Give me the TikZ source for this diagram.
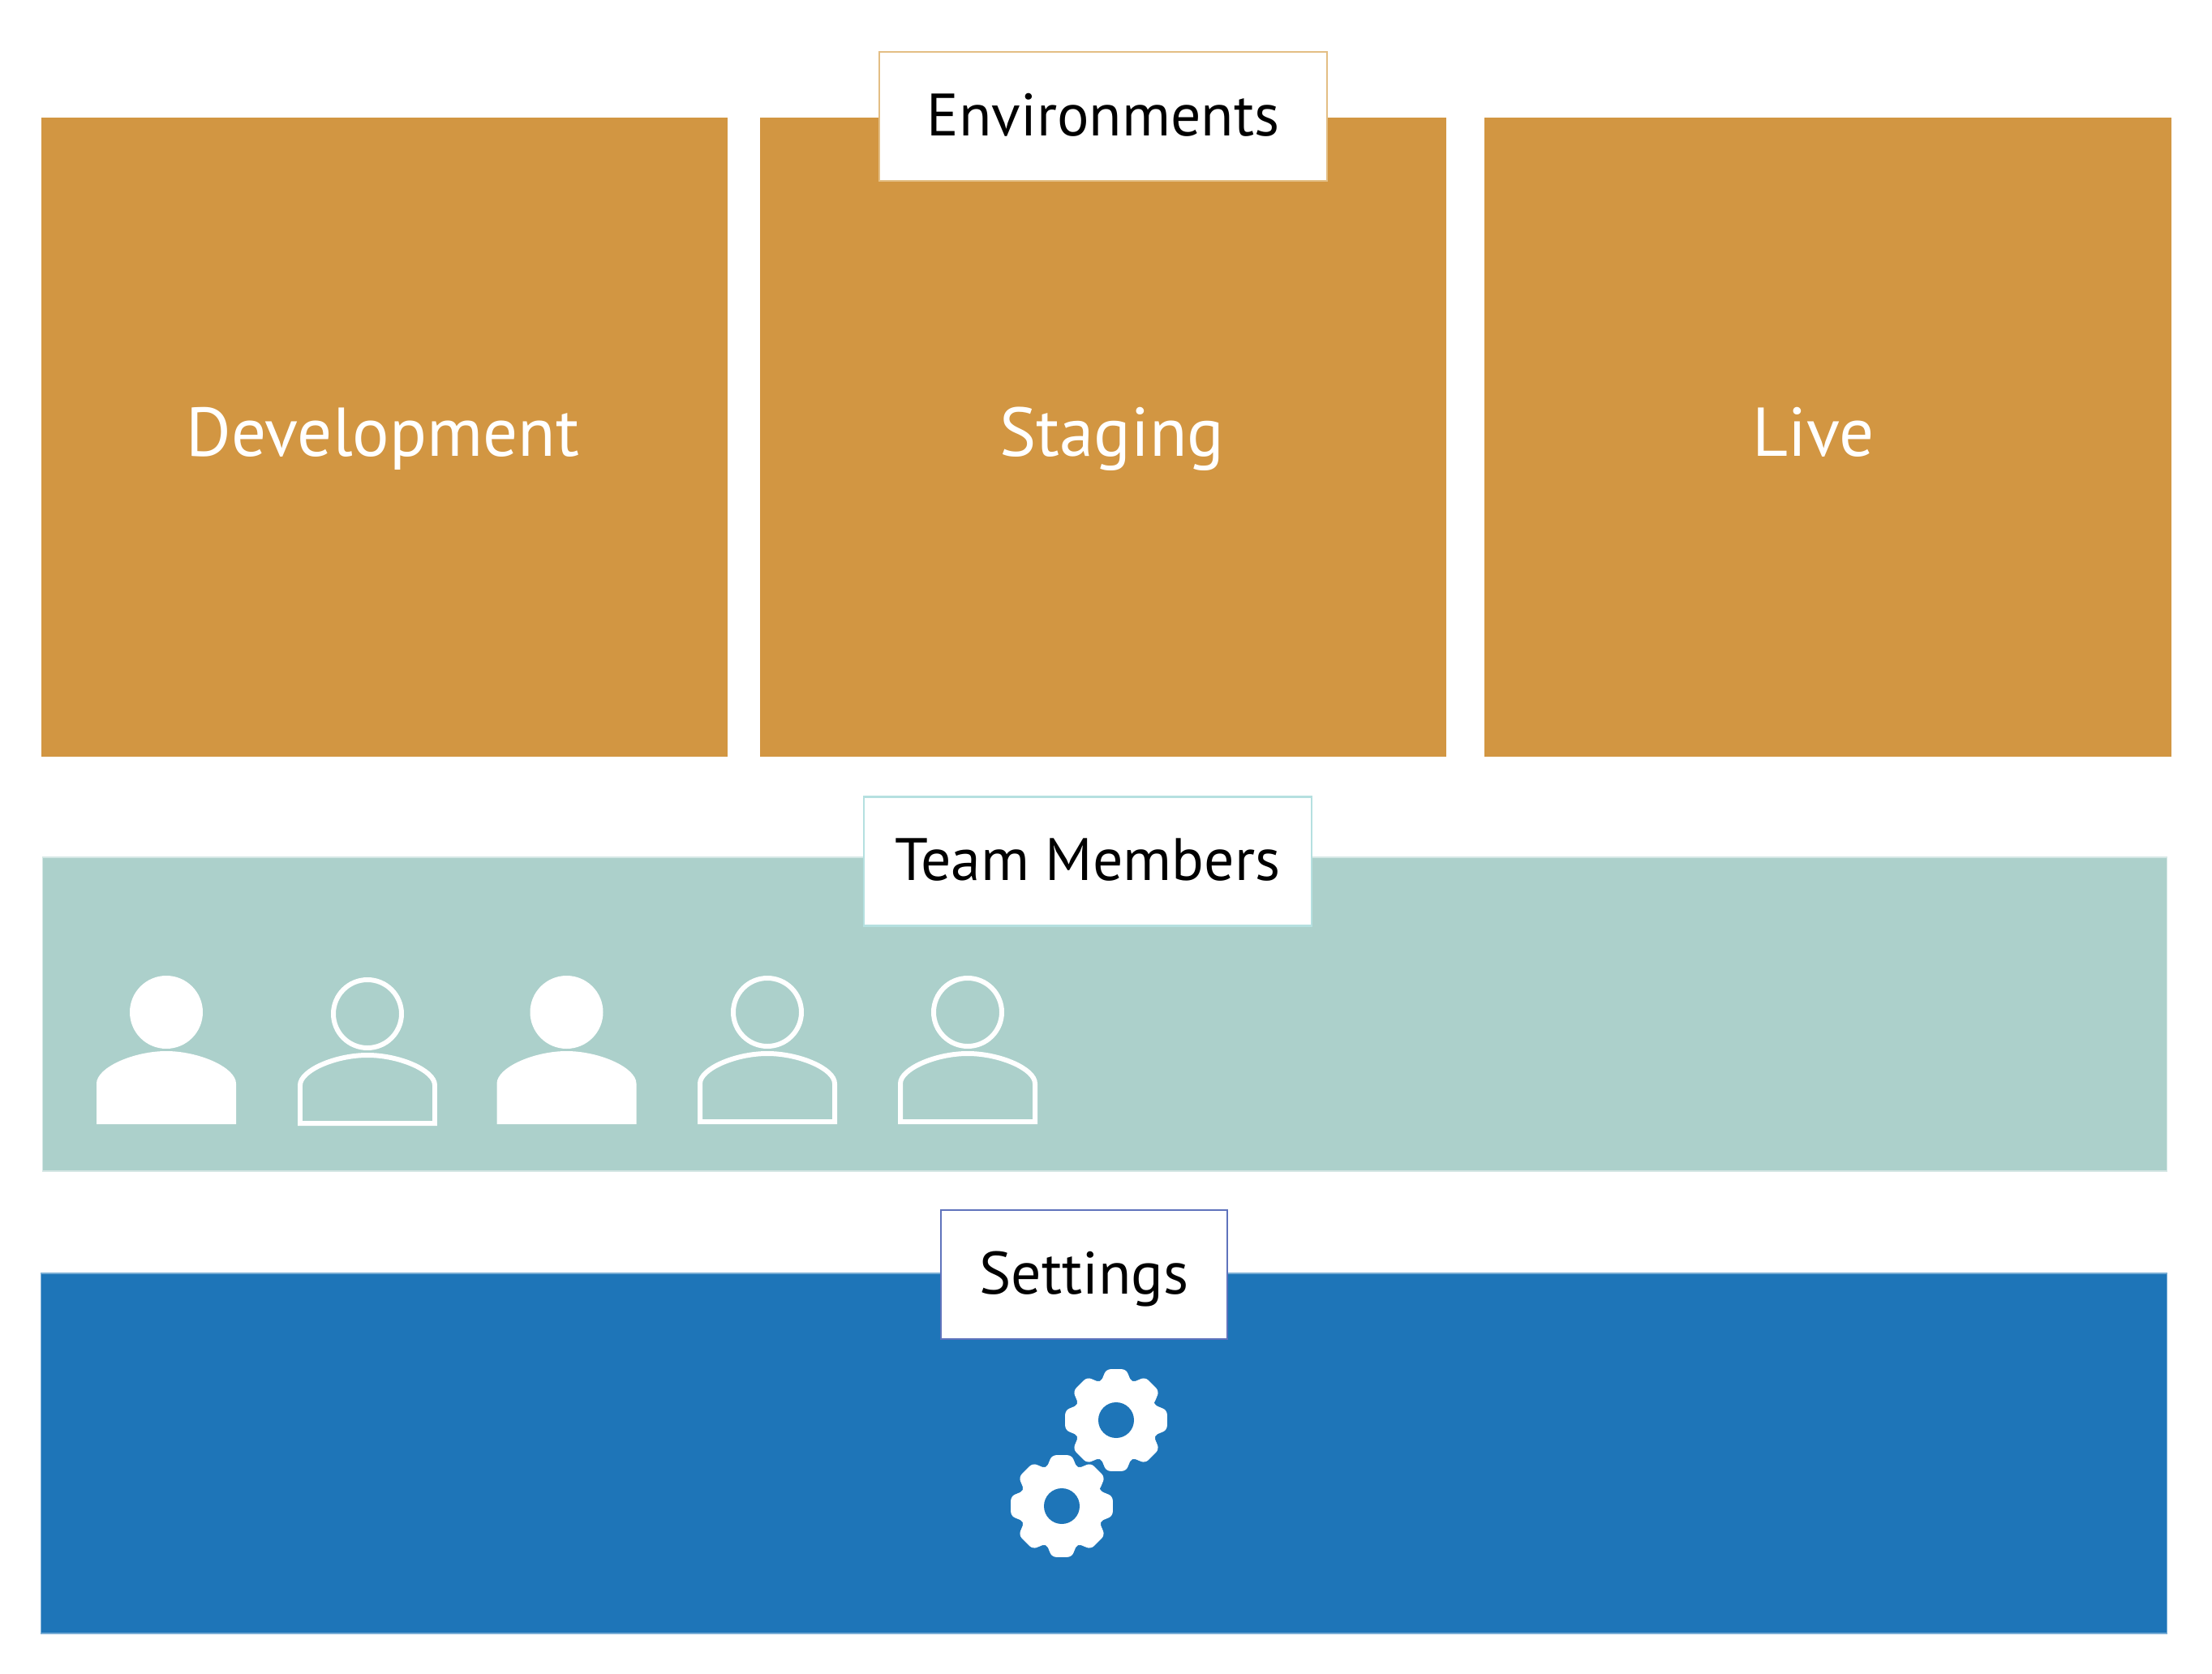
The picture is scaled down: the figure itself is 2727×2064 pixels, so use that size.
\documentclass[tikz,border=0pt]{standalone}
\usepackage{fontspec}
\setmainfont{PT Sans}
\definecolor{envcolor}{HTML}{D29642}
\definecolor{teamcolor}{HTML}{ACD0CB}
\definecolor{setcolor}{HTML}{1E75B8}
\definecolor{setborder}{HTML}{5F73BC}
\definecolor{teamborder}{HTML}{B5E0E0}
\definecolor{envborder}{HTML}{E3BE84}
\tikzset{
  envbox/.style={fill=envcolor, inner sep=0pt, outer sep=0pt, minimum width=8.46cm, minimum height=7.88cm},
  bandbox/.style={inner sep=0pt, outer sep=0pt, minimum width=26.18cm},
  titlebox/.style={draw, fill=white, line width=0.6pt, inner sep=0pt, outer sep=0pt, minimum height=1.59cm, text height=0.47cm, text depth=0pt, font=\fontsize{21}{24}\selectfont},
  envtext/.style={text=white, inner sep=0pt, anchor=base, font=\fontsize{24.2}{30}\selectfont},
  pics/personfull/.style={code={
    \fill[white] (0,0) circle (45);
    \fill[white] (-86,138) -- (-86,88) .. controls (-86,68) and (-40,48) .. (0,48) .. controls (40,48) and (86,68) .. (86,88) -- (86,138) -- cycle;
  }},
  pics/personline/.style={code={
    \draw[white, line width=1.7pt] (0,0) circle (42);
    \draw[white, line width=1.7pt] (-83,135) -- (-83,88) .. controls (-83,70) and (-40,51) .. (0,51) .. controls (40,51) and (83,70) .. (83,88) -- (83,135) -- cycle;
  }},
  pics/gear/.style={code={
    \fill[white, rounded corners=1.5pt] (-22.5:50)
      \foreach \a in {0,45,...,315} {
        -- (\a-11:64) -- (\a+11:64) -- (\a+22.5:50)
      } -- cycle;
    \fill[setcolor] (0,0) circle (22);
  }},
}
\begin{document}
\begin{tikzpicture}[x=0.01cm,y=-0.01cm]
\useasboundingbox (0,0) rectangle (2727,2064);
\node[envbox] (dev) at (474,539) {};
\node[envbox] (staging) at (1360,539) {};
\node[envbox] (live) at (2253.5,539) {};
\node[envtext] (devtext) at (472,562) {Development};
\node[envtext] (stagingtext) at (1371,562) {Staging};
\node[envtext] (livetext) at (2236,562) {Live};
\node[bandbox, fill=teamcolor, draw=teamcolor!50, minimum height=3.87cm] (team) at (1362,1250.5) {};
\node[bandbox, fill=setcolor, draw=setcolor!60, minimum width=26.2cm, minimum height=4.44cm] (settings) at (1361,1792) {};
\node[titlebox, draw=envborder, minimum width=5.52cm] (envtitle) at (1360,143.5) {Environments};
\node[titlebox, draw=teamborder, minimum width=5.52cm] (teamtitle) at (1341,1062) {Team Members};
\node[titlebox, draw=setborder, minimum width=3.53cm] (settitle) at (1336.5,1571.5) {Settings};
\pic at (205,1248) {personfull};
\pic at (453,1250) {personline};
\pic at (698.5,1248) {personfull};
\pic at (946,1248) {personline};
\pic at (1193,1248) {personline};
\pic at (1376,1751) {gear};
\pic at (1309,1857) {gear};
\end{tikzpicture}
\end{document}
